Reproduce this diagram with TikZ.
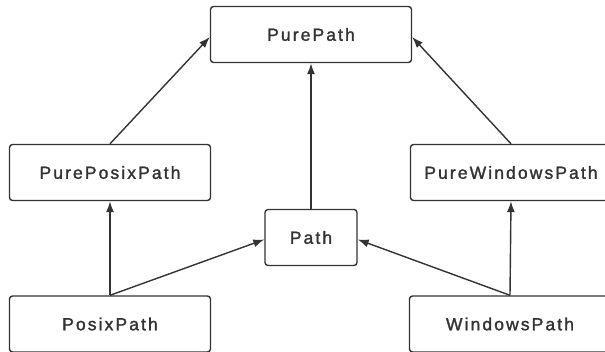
\documentclass[tikz,border=0pt]{standalone}
\usepackage{fontspec}
\setmainfont[LetterSpace=12, FakeBold=1.6]{Liberation Sans}
\usetikzlibrary{positioning, arrows.meta}
\definecolor{linegray}{HTML}{333333}
\tikzset{%
  block/.style = {draw = linegray, line width = 1.4pt, rectangle,
    rounded corners = 3pt, minimum height = 56pt, minimum width = 201pt,
    inner sep = 0pt, text = linegray, font = \fontsize{17.5}{20}\selectfont},
  small/.style = {minimum width = 92pt}, % short box
  link/.style  = {draw = linegray, line width = 1.4pt,
    -{Latex[length = 11pt, width = 8pt]}} % inheritance arrow
}

\begin{document}
\begin{tikzpicture}[x = 1pt, y = -1pt]
\useasboundingbox (0,0) rectangle (605,351);
\clip (0,0) rectangle (605,351);
% blocks
\draw
	(311,34.5) node [block] (pp) {PurePath}
	(110,172.5) node [block] (ppx) {PurePosixPath}
	(511,172.5) node [block] (ppw) {PureWindowsPath}
	(311,237.5) node [block, small] (p) {Path}
	(110,324) node [block] (px) {PosixPath}
	(510,324) node [block] (pw) {WindowsPath};
% pure lines
\draw[link] (ppx.north) -- ([yshift = -2.5pt]pp.west);
\draw[link] (p.north) -- (pp.south);
\draw[link] (ppw.north) -- ([yshift = -2.5pt]pp.east);
% concrete lines
\draw[link] (px.north) -- (ppx.south);
\draw[link] (px.north) -- ([yshift = -2pt]p.west);
\draw[link] (pw.north) -- (ppw.south);
\draw[link] (pw.north) -- ([yshift = -2pt]p.east);
\end{tikzpicture}
\end{document}
